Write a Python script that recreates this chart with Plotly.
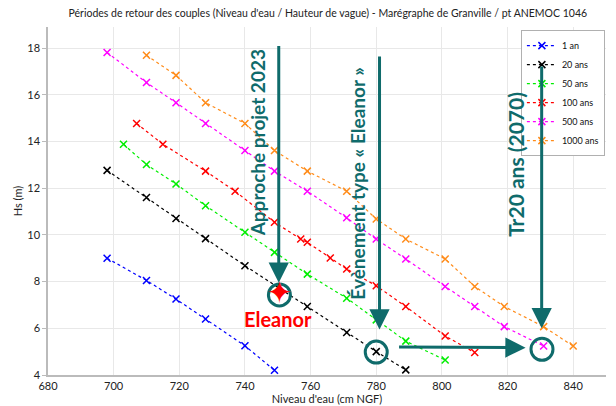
import plotly.graph_objects as go

# ---------------- data ----------------
series_names = ["1 an", "20 ans", "50 ans", "100 ans", "500 ans", "1000 ans"]
series_colors = ["#0000ff", "#000000", "#00ee00", "#ff0000", "#ff00ff", "#ff8c1a"]

x_1an = [698, 710, 719, 728, 740, 749]
y_1an = [9.0, 8.05, 7.25, 6.4, 5.25, 4.2]

x_20ans = [698, 710, 719, 728, 740, 759, 771, 780, 789]
y_20ans = [12.76, 11.6, 10.7, 9.84, 8.68, 6.93, 5.82, 5.0, 4.22]

x_50ans = [703, 710, 719, 728, 740, 749, 759, 771, 780, 789, 801]
y_50ans = [13.88, 13.01, 12.18, 11.25, 10.11, 9.25, 8.32, 7.29, 6.36, 5.45, 4.64]

x_100ans = [707, 715, 728, 737, 749, 757, 759, 766, 771, 780, 789, 801, 810]
y_100ans = [14.77, 13.88, 12.73, 11.87, 10.54, 9.82, 9.68, 9.01, 8.54, 7.82, 6.93, 5.67, 4.96]

x_500ans = [698, 710, 719, 728, 740, 749, 759, 771, 780, 789, 801, 810, 819, 831]
y_500ans = [17.81, 16.52, 15.66, 14.77, 13.61, 12.73, 11.87, 10.73, 9.82, 8.97, 7.79, 6.93, 6.07, 5.24]

x_1000ans = [710, 719, 728, 740, 749, 759, 771, 780, 789, 801, 810, 819, 831, 840]
y_1000ans = [17.69, 16.83, 15.66, 14.77, 13.61, 12.73, 11.87, 10.68, 9.82, 8.97, 7.79, 6.93, 6.07, 5.24]

series_x = [x_1an, x_20ans, x_50ans, x_100ans, x_500ans, x_1000ans]
series_y = [y_1an, y_20ans, y_50ans, y_100ans, y_500ans, y_1000ans]

# Eleanor event and highlighted points
eleanor_x = [750.5]
eleanor_y = [7.43]
circle_x = [750.5, 780.0, 830.5]
circle_y = [7.43, 4.98, 5.1]

x_ticks = [680, 700, 720, 740, 760, 780, 800, 820, 840]
y_ticks = [4, 6, 8, 10, 12, 14, 16, 18]

title_text = "Périodes de retour des couples (Niveau d'eau / Hauteur de vague) - Marégraphe de Granville / pt ANEMOC 1046"
x_title = "Niveau d'eau (cm NGF)"
y_title = "Hs (m)"

TEAL = "#0f6b6b"
FONT = "Lato"

fig = go.Figure()
for name, col, xs, ys in zip(series_names, series_colors, series_x, series_y):
    fig.add_trace(go.Scatter(
        x=xs, y=ys, name=name, mode="lines+markers",
        line=dict(color=col, width=1.2, dash="dot"),
        marker=dict(symbol="x-thin", size=7, color=col, line=dict(color=col, width=1.5)),
    ))

# circles
fig.add_trace(go.Scatter(
    x=circle_x, y=circle_y, mode="markers", showlegend=False, hoverinfo="skip",
    marker=dict(symbol="circle-open", size=22, color=TEAL, line=dict(color=TEAL, width=3)),
))
# Eleanor star
fig.add_trace(go.Scatter(
    x=eleanor_x, y=eleanor_y, mode="text", showlegend=False, text=["✦"],
    textposition="middle center",
    textfont=dict(family="DejaVu Sans", size=31, color="#ff0000"),
))

annotations = []
# arrows (tip at x,y ; tail at ax,ay)
arrows = [
    (750.3, 7.95, 750.3, 18.15),
    (781.0, 5.95, 781.0, 17.7),
    (830.4, 6.0, 830.4, 17.27),
    (825.5, 5.17, 786.5, 5.2),
]
for (x, y, ax, ay) in arrows:
    annotations.append(dict(
        x=x, y=y, ax=ax, ay=ay, xref="x", yref="y", axref="x", ayref="y",
        text="", showarrow=True, arrowhead=2, arrowsize=1.35, arrowwidth=3,
        arrowcolor=TEAL, standoff=0, startstandoff=0,
    ))

rot_texts = [
    ("Approche projet 2023", 743.9, 13.95, 19),
    ("Évènement type « Eleanor »", 774.2, 12.2, 19),
    ("Tr20 ans (2070)", 822.6, 13.0, 21),
]
for (t, x, y, s) in rot_texts:
    annotations.append(dict(
        x=x, y=y, xref="x", yref="y", text=t, showarrow=False, textangle=-90,
        font=dict(family=FONT, size=s, color=TEAL, weight="bold"),
        xanchor="center", yanchor="middle",
    ))

annotations.append(dict(
    x=eleanor_x[0] - 0.3, y=eleanor_y[0] - 1.05, xref="x", yref="y", text="Eleanor", showarrow=False,
    font=dict(family=FONT, size=20, color="#ff0000", weight="bold"),
    xanchor="center", yanchor="middle",
))

# the page body adds an 8px offset; the figure is sized for the visible area
fig.update_layout(
    width=608, height=398,
    margin=dict(l=40, r=10, t=19, b=31, autoexpand=False),
    paper_bgcolor="white", plot_bgcolor="white",
    font=dict(family=FONT, size=11, color="#222222"),
    title=dict(text=title_text, x=0.526, xref="container", y=0.987, yref="container",
               xanchor="center", yanchor="middle", automargin=False,
               font=dict(family=FONT, size=10.5, color="#222222")),
    showlegend=True,
    legend=dict(x=0.998, y=0.991, xanchor="right", yanchor="top",
                bgcolor="white", bordercolor="#b0b0b0", borderwidth=1,
                font=dict(family=FONT, size=9, color="#111111"),
                itemwidth=30, tracegroupgap=0),
    annotations=annotations,
)
fig.update_xaxes(
    range=[680, 850], tickvals=x_ticks, showgrid=True, gridcolor="#e8e8e8", gridwidth=1,
    showline=True, linecolor="#bbbbbb", linewidth=1.5, zeroline=False, automargin=False,
    ticks="", tickfont=dict(size=11, color="#222222"),
    title=dict(text=x_title, standoff=2, font=dict(size=11, color="#222222")),
)
fig.update_yaxes(
    range=[4, 18.9], tickvals=y_ticks, showgrid=True, gridcolor="#e8e8e8", gridwidth=1,
    showline=True, linecolor="#bbbbbb", linewidth=1.5, zeroline=False, automargin=False,
    ticks="outside", ticklen=4, tickcolor="#bbbbbb", tickfont=dict(size=11, color="#222222"),
    title=dict(text=y_title, standoff=2, font=dict(size=11, color="#222222")),
)

fig.write_html("out.html")
